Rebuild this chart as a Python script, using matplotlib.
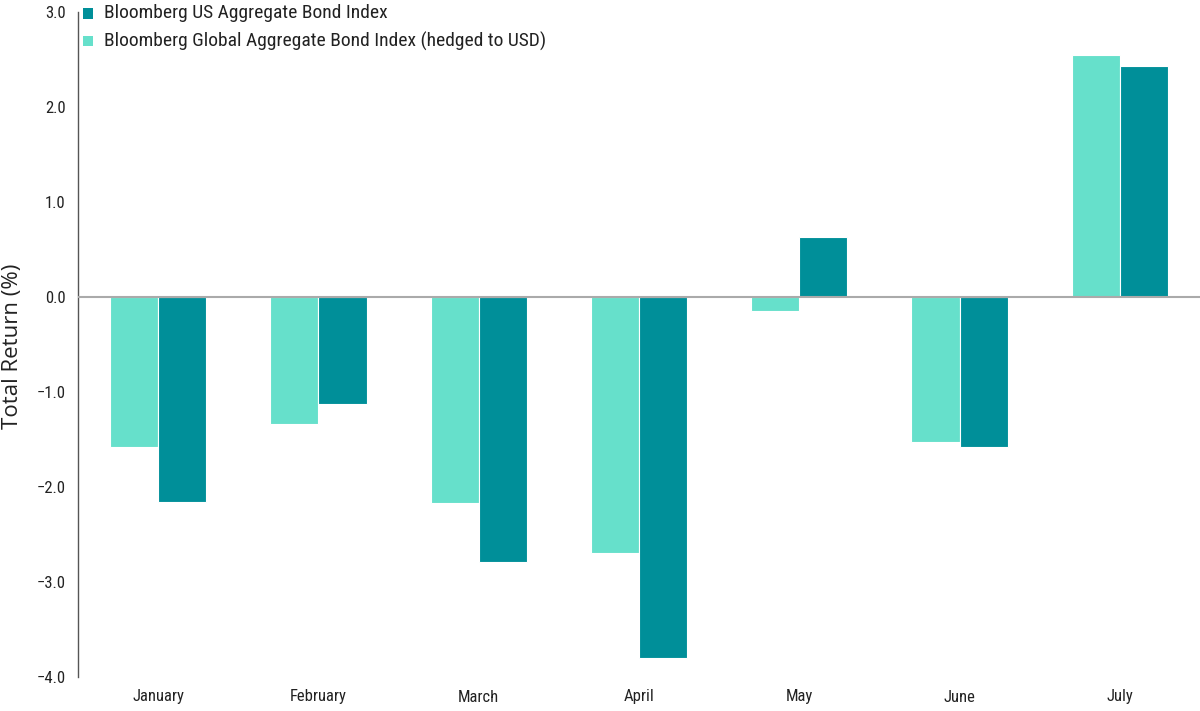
import matplotlib
matplotlib.use("Agg")
import matplotlib.pyplot as plt
import numpy as np
from matplotlib.patches import Rectangle

months = ["January", "February", "March", "April", "May", "June", "July"]
global_hedged = [-1.58, -1.34, -2.17, -2.69, -0.15, -1.53, 2.55]
us_agg = [-2.16, -1.13, -2.79, -3.80, 0.63, -1.58, 2.43]
series_names = ["Bloomberg US Aggregate Bond Index",
                "Bloomberg Global Aggregate Bond Index (hedged to USD)"]
yticks = [-4.0, -3.0, -2.0, -1.0, 0.0, 1.0, 2.0, 3.0]
ylabel = "Total Return (%)"

c_light = "#66E0CB"
c_dark = "#008F99"
txtc = "#222222"

W, H = 1200, 711
DPI = 100

plt.rcParams['font.family'] = ['Roboto Condensed', 'DejaVu Sans']

fig = plt.figure(figsize=(W / DPI, H / DPI), dpi=DPI)
ax = fig.add_axes([78 / W, 1 - 677 / H, 1 - 78 / W, (677 - 12) / H])

x = np.arange(len(months))
w = 0.3
ax.bar(x - w/2, global_hedged, width=w, color=c_light, edgecolor="white", linewidth=0.8, zorder=2)
ax.bar(x + w/2, us_agg, width=w, color=c_dark, edgecolor="white", linewidth=0.8, zorder=2)
ax.axhline(0, color="#aaaaaa", lw=1.5, zorder=3)

ax.set_xlim(-0.5, 6.5)
ax.set_ylim(-4.0, 3.0)
ax.set_yticks(yticks)
ax.set_yticklabels([f"{v:.1f}".replace("-", "\u2212") for v in yticks])
ax.set_xticks(x)
ax.set_xticklabels(months)
ax.tick_params(axis="both", length=0, labelsize=12, colors=txtc)
ax.tick_params(axis="y", pad=9)
ax.tick_params(axis="x", pad=9)
for s in ["top", "right", "bottom"]:
    ax.spines[s].set_visible(False)
ax.spines["left"].set_color("#555555")
ax.spines["left"].set_linewidth(1.0)

fig.text(13 / W, 1 - 346 / H, ylabel, rotation=90, ha="center", va="center",
         fontsize=16, color=txtc, family=['Open Sans', 'DejaVu Sans'])

leg_colors = [c_dark, c_light]
leg_y = [13.5, 41]
for col, yc, name in zip(leg_colors, leg_y, series_names):
    fig.add_artist(Rectangle((83 / W, 1 - (yc + 5) / H), 10 / W, 10 / H,
                             transform=fig.transFigure, facecolor=col, edgecolor="none"))
    fig.text(104 / W, 1 - yc / H, name, fontsize=14, color=txtc, va="center", ha="left")

fig.savefig("out.png", dpi=DPI)
